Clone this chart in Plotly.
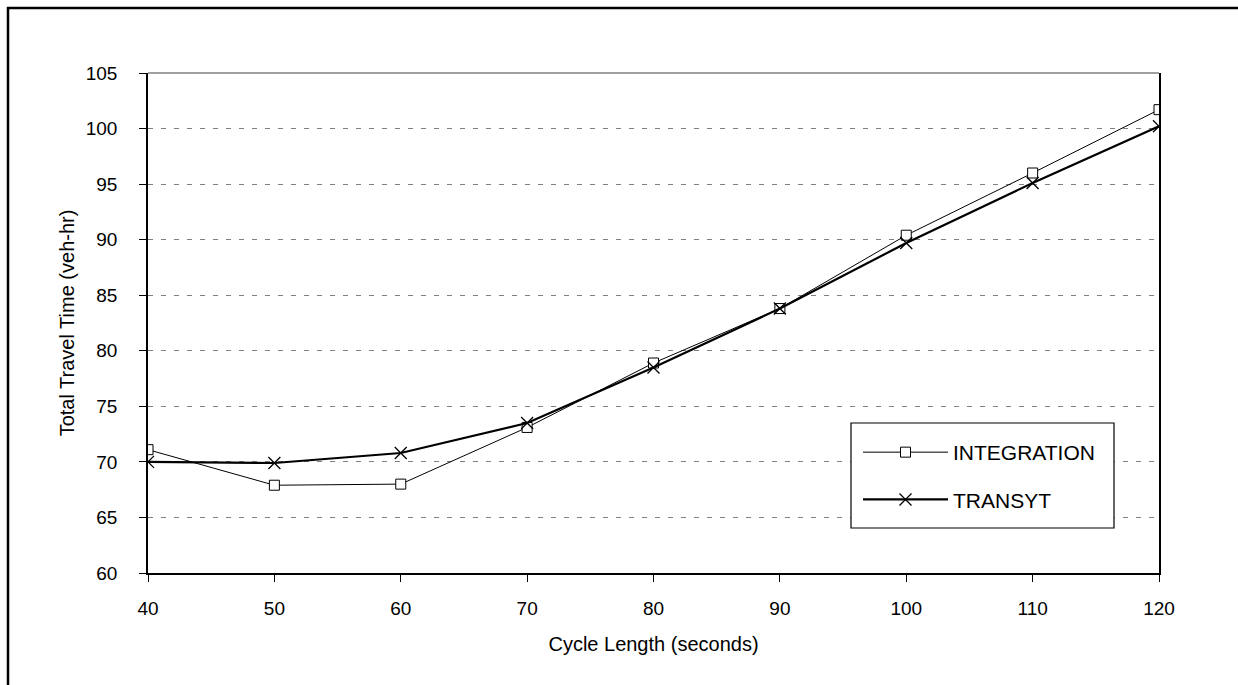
import plotly.graph_objects as go

cycle_length = [40, 50, 60, 70, 80, 90, 100, 110, 120]
integration = [71.1, 67.9, 68.0, 73.1, 78.9, 83.8, 90.4, 96.0, 101.7]
transyt = [70.0, 69.9, 70.8, 73.5, 78.5, 83.8, 89.7, 95.1, 100.2]

y_ticks = [60, 65, 70, 75, 80, 85, 90, 95, 100, 105]
x_ticks = [40, 50, 60, 70, 80, 90, 100, 110, 120]

FONT = "Liberation Sans, Arial, sans-serif"

fig = go.Figure()
fig.add_trace(go.Scatter(
    x=cycle_length, y=integration, name="INTEGRATION", mode="lines+markers",
    line=dict(color="#000000", width=1),
    marker=dict(symbol="square", size=10, color="#ffffff",
                line=dict(color="#000000", width=1)),
    legendgroup="a",
))
fig.add_trace(go.Scatter(
    x=cycle_length, y=transyt, name="TRANSYT", mode="lines+markers",
    line=dict(color="#000000", width=2.2),
    marker=dict(symbol="x-thin", size=12, color="#000000",
                line=dict(color="#000000", width=1.3)),
    legendgroup="b",
))

L, R, T, B = 148, 79, 73, 112
W, H = 1238, 685
pw, ph = W - L - R, H - T - B

def px_x(p):
    return (p - L) / pw

def px_y(p):
    return (H - B - p) / ph

fig.update_layout(
    width=W, height=H,
    margin=dict(l=L, r=R, t=T, b=B, pad=0),
    paper_bgcolor="#ffffff", plot_bgcolor="#ffffff",
    font=dict(family=FONT, color="#000000", size=19),
    showlegend=True,
    legend=dict(
        x=px_x(858), y=px_y(432), xanchor="left", yanchor="top",
        borderwidth=0, bgcolor="rgba(0,0,0,0)",
        font=dict(family=FONT, size=21, color="#000000"),
        itemwidth=85, tracegroupgap=17,
    ),
    xaxis=dict(
        range=[40, 120], tickvals=x_ticks, ticktext=[str(v) for v in x_ticks],
        showgrid=False, zeroline=False,
        showline=True, linecolor="#000000", linewidth=1.5,
        ticks="outside", ticklen=7, tickcolor="#000000", tickwidth=1,
        ticklabelstandoff=10,
        tickfont=dict(family=FONT, size=19),
        title=dict(text="Cycle Length (seconds)", standoff=19,
                   font=dict(family=FONT, size=20)),
    ),
    yaxis=dict(
        range=[60, 105], tickvals=y_ticks, ticktext=[str(v) for v in y_ticks],
        showgrid=True, gridcolor="#808080", gridwidth=1, griddash="5px,8px",
        zeroline=False,
        showline=True, linecolor="#000000", linewidth=1.5, mirror=True,
        ticks="outside", ticklen=7, tickcolor="#000000", tickwidth=1,
        ticklabelstandoff=18,
        tickfont=dict(family=FONT, size=19),
        title=dict(text="Total Travel Time (veh-hr)", standoff=6,
                   font=dict(family=FONT, size=20)),
    ),
    shapes=[
        dict(type="line", xref="paper", yref="paper", x0=0, x1=1, y0=1, y1=1,
             line=dict(color="#808080", width=1.5)),
        dict(type="rect", xref="paper", yref="paper", layer="above",
             x0=px_x(851), x1=px_x(1114), y0=px_y(528), y1=px_y(423),
             line=dict(color="#000000", width=1.2), fillcolor="#ffffff"),
        dict(type="line", xref="paper", yref="paper",
             x0=px_x(8), x1=px_x(8), y0=px_y(700), y1=px_y(7),
             line=dict(color="#000000", width=2.5)),
        dict(type="line", xref="paper", yref="paper",
             x0=px_x(7), x1=px_x(1250), y0=px_y(8), y1=px_y(8),
             line=dict(color="#000000", width=2.5)),
    ],
)

fig.write_html("out.html")
